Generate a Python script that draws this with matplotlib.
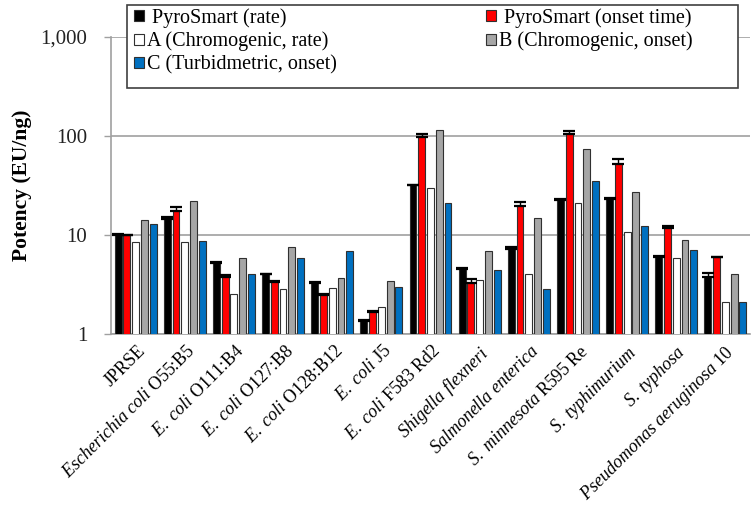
import numpy as np
import matplotlib
matplotlib.use("Agg")
import matplotlib.pyplot as plt
from matplotlib.patches import Patch, Rectangle
from matplotlib.ticker import FixedLocator, FuncFormatter, NullLocator
import matplotlib.transforms as mtransforms

plt.rcParams['font.family'] = ['Liberation Serif', 'DejaVu Serif']
plt.rcParams['mathtext.fontset'] = 'custom'
plt.rcParams['mathtext.rm'] = 'Liberation Serif'
plt.rcParams['mathtext.it'] = 'Liberation Serif:italic'
plt.rcParams['mathtext.bf'] = 'Liberation Serif:bold'

strains = [
    "JPRSE",
    r"$\mathit{Escherichia\ coli}$ O55:B5",
    r"$\mathit{E.\ coli}$ O111:B4",
    r"$\mathit{E.\ coli}$ O127:B8",
    r"$\mathit{E.\ coli}$ O128:B12",
    r"$\mathit{E.\ coli}$ J5",
    r"$\mathit{E.\ coli}$ F583 Rd2",
    r"$\mathit{Shigella\ flexneri}$",
    r"$\mathit{Salmonella\ enterica}$",
    r"$\mathit{S.\ minnesota}$ R595 Re",
    r"$\mathit{S.\ typhimurium}$",
    r"$\mathit{S.\ typhosa}$",
    r"$\mathit{Pseudomonas\ aeruginosa}$ 10",
]

# potency in EU/ng
pyro_rate = [10.1, 14.4, 5.2, 4.0, 3.3, 1.34, 31.7, 4.57, 7.2, 22.7, 23.3, 6.04, 3.8]
pyro_rate_err = [0.1, 0.9, 0.1, 0.05, 0.05, 0.03, 0.3, 0.07, 0.4, 0.3, 0.3, 0.1, 0.35]
pyro_onset = [10.0, 17.5, 3.8, 3.35, 2.48, 1.68, 98.5, 3.3, 19.8, 105.6, 52.1, 11.7, 5.95]
pyro_onset_err = [0.1, 1.8, 0.1, 0.05, 0.05, 0.03, 6.5, 0.27, 1.5, 6.4, 6.0, 0.7, 0.1]
a_chromo_rate = [8.4, 8.4, 2.55, 2.87, 2.9, 1.87, 29.6, 3.5, 4.0, 21.2, 10.8, 5.8, 2.12]
b_chromo_onset = [14.3, 22.2, 5.8, 7.6, 3.65, 3.43, 116, 6.84, 14.7, 73.3, 27.0, 8.9, 4.0]
c_turbid_onset = [12.9, 8.7, 4.0, 5.8, 6.84, 3.0, 21.2, 4.4, 2.87, 35.4, 12.4, 7.05, 2.12]

series = [
    (" PyroSmart (rate)", pyro_rate, pyro_rate_err, "#000000"),
    (" PyroSmart (onset time)", pyro_onset, pyro_onset_err, "#ff0000"),
    ("A (Chromogenic, rate)", a_chromo_rate, None, "#ffffff"),
    ("B (Chromogenic, onset)", b_chromo_onset, None, "#a6a6a6"),
    ("C (Turbidmetric, onset)", c_turbid_onset, None, "#0070c0"),
]

W, H = 753, 512
fig = plt.figure(figsize=(W / 100, H / 100), dpi=100)
ax = fig.add_axes([111 / W, 1 - 334 / H, 639 / W, 297 / H])

x = np.arange(len(strains))
step = 0.178
width = 0.14
handles = {}
for i, (label, vals, err, color) in enumerate(series):
    pos = x + (i - 2) * step
    ax.bar(pos, vals, width=width, color=color, edgecolor="#303030",
           linewidth=0.8, zorder=3)
    if err is not None:
        ax.errorbar(pos, vals, yerr=[np.zeros(len(vals)), err], fmt="none",
                    ecolor="black", elinewidth=1.0, capsize=4.2, capthick=1.6,
                    zorder=4)
    handles[label] = Patch(facecolor=color, edgecolor="#303030", linewidth=0.8)

ax.set_yscale("log")
ax.set_ylim(1, 1000)
ax.set_xlim(-0.5, len(strains) - 0.5)
ax.yaxis.set_major_locator(FixedLocator([1, 10, 100, 1000]))
ax.yaxis.set_minor_locator(NullLocator())
ax.yaxis.set_major_formatter(FuncFormatter(lambda v, p: f"{v:,.0f}"))
ax.grid(axis="y", color="#a0a0a0", linewidth=1.2, zorder=0)
ax.tick_params(axis="y", direction="out", length=5, width=1.0, color="#a0a0a0",
               labelsize=15, pad=12, labelcolor="#222222")
ax.tick_params(axis="x", length=0, pad=6)

for s in ("top", "right"):
    ax.spines[s].set_visible(False)
for s in ("left", "bottom"):
    ax.spines[s].set_color("#a0a0a0")
    ax.spines[s].set_linewidth(1.2)

ax.set_xticks(x)
offset = mtransforms.ScaledTranslation(10 / 72, 0, fig.dpi_scale_trans)
ax.set_xticklabels(strains, rotation=45, ha="right", va="top", fontsize=13)
for lab in ax.get_xticklabels():
    lab.set_transform(lab.get_transform() + offset)

fig.text(22 / W, 1 - 185 / H, "Potency (EU/ng)", rotation=90, ha="center",
         va="center", fontsize=15.5, fontweight="bold")

# legend: one white box, two columns placed inside it
fig.patches.append(Rectangle((127 / W, 1 - 88 / H), 611 / W, 83 / H,
                             transform=fig.transFigure, facecolor="white",
                             edgecolor="#404040", linewidth=1.2, zorder=5))
leg_kw = dict(loc="upper left", fontsize=14.5, handlelength=0.5,
              handleheight=0.5, handletextpad=0.15, labelspacing=0.2,
              borderpad=0, borderaxespad=0, frameon=False)
col1 = [" PyroSmart (rate)", "A (Chromogenic, rate)", "C (Turbidmetric, onset)"]
col2 = [" PyroSmart (onset time)", "B (Chromogenic, onset)"]
leg1 = fig.legend([handles[k] for k in col1], col1,
                  bbox_to_anchor=(134 / W, 1 - 8 / H), **leg_kw)
leg2 = fig.legend([handles[k] for k in col2], col2,
                  bbox_to_anchor=(486 / W, 1 - 8 / H), **leg_kw)
for lg in (leg1, leg2):
    lg.set_zorder(6)

fig.savefig("out.png", dpi=100)
